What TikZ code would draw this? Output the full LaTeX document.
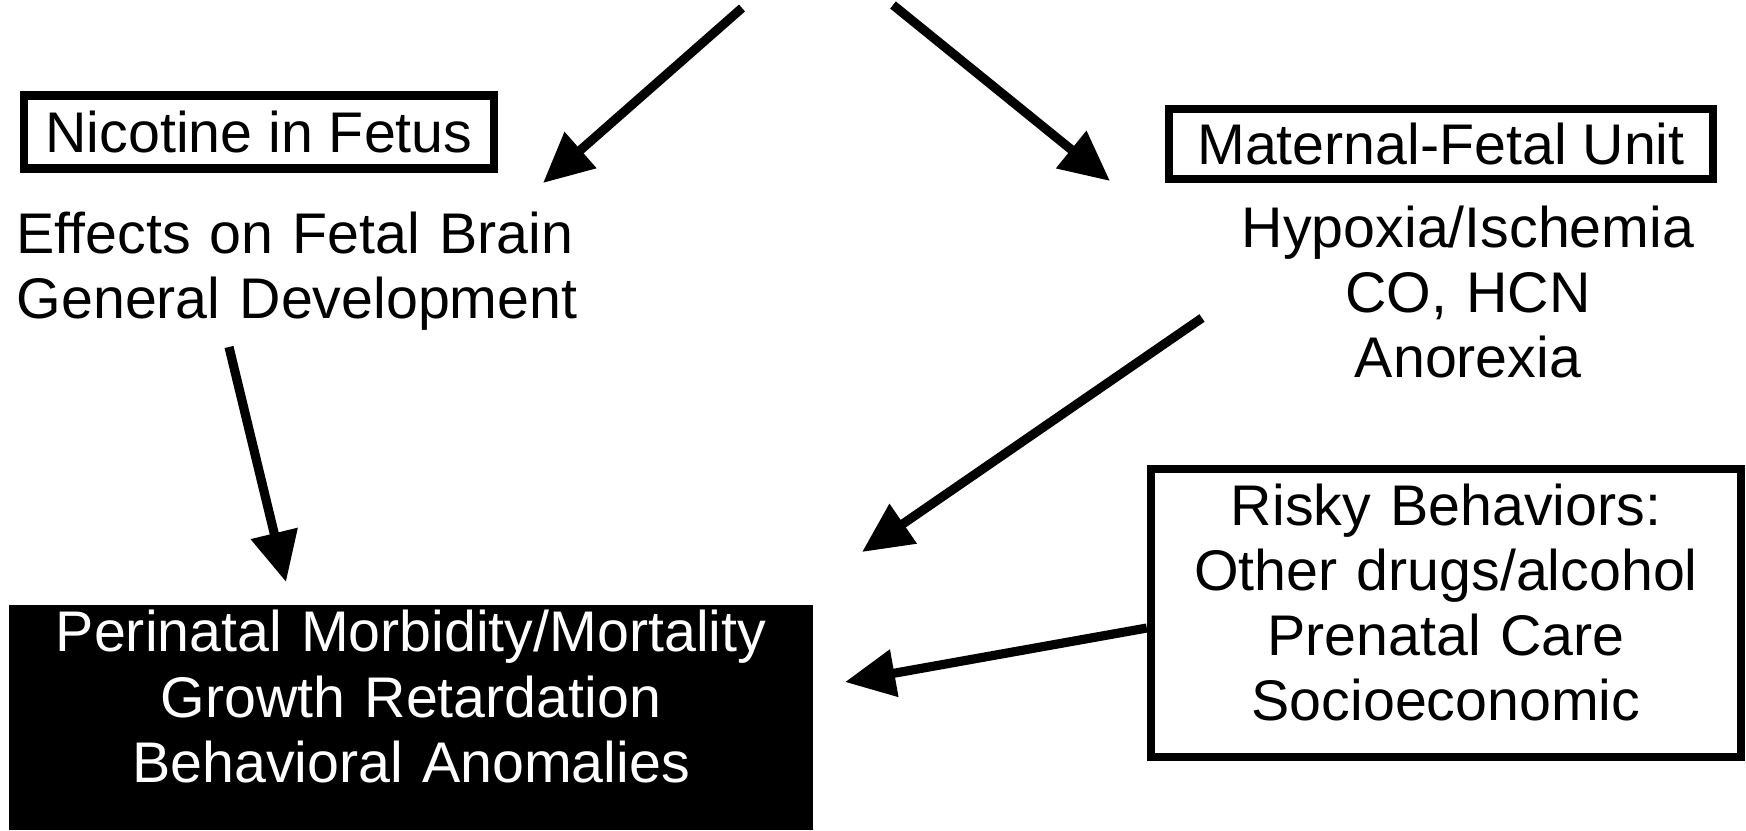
\documentclass[tikz,border=0pt]{standalone}
\usepackage{fontspec}
\setmainfont{Liberation Sans}
\usepackage{xcolor}
\usetikzlibrary{arrows.meta}
\usetikzlibrary{positioning}

\begin{document}
\begin{tikzpicture}[x=0.01cm,y=-0.01cm,
  every node/.style={font=\fontsize{16.3pt}{18.5pt}\selectfont},
  frame/.style={draw,line width=2.3pt,inner sep=0pt},
  txt/.style={inner sep=0pt},
  arr/.style={-{Triangle[length=5mm,width=4.6mm]},line width=2.6pt}]
\useasboundingbox (0,0) rectangle (1746,830);

% boxes and texts
\node[frame,minimum width=4.69cm,minimum height=0.73cm] (nic) at (259,132) {Nicotine in Fetus};
\node[txt,anchor=base west,text width=5.8cm,align=left] (eff) at (16,253) {Effects on Fetal Brain\\General Development};
\node[frame,minimum width=5.44cm,minimum height=0.70cm] (mat) at (1441,144) {Maternal-Fetal Unit};
\node[txt,anchor=base,text width=5cm,align=center] (hyp) at (1468,247) {Hypoxia/Ischemia\\CO, HCN\\Anorexia};
\node[frame,minimum width=5.90cm,minimum height=2.87cm,text width=5.6cm,align=center,
  text height=0.41cm,text depth=2.16cm] (risk) at (1446,613)
  {Risky Behaviors:\\Other drugs/alcohol\\Prenatal Care\\Socioeconomic};
\node[txt,fill=black,text=white,minimum width=8.04cm,minimum height=2.25cm,text width=7.6cm,align=center,
  text height=0.41cm,text depth=1.72cm] (out) at (411,717.5)
  {Perinatal Morbidity/Mortality\\Growth Retardation\\Behavioral Anomalies};

% free ends of the arrows
\coordinate (srcL) at (742,8);
\coordinate (srcR) at (893,5);
\coordinate (nicTip) at (543,183);
\coordinate (matTip) at (1110,181);
\coordinate (effFoot) at (229,347);
\coordinate (outTop) at (286,582);
\coordinate (hypFoot) at (1202,318);
\coordinate (outCorner) at (862,552);
\coordinate (outSide) at (845,682);

\draw[arr] (srcL) -- (nicTip);
\draw[arr] (srcR) -- (matTip);
\draw[arr] (effFoot) -- (outTop);
\draw[arr] (hypFoot) -- (outCorner);
\draw[arr] ([yshift=-0.15cm]risk.west) -- (outSide);
\end{tikzpicture}
\end{document}
